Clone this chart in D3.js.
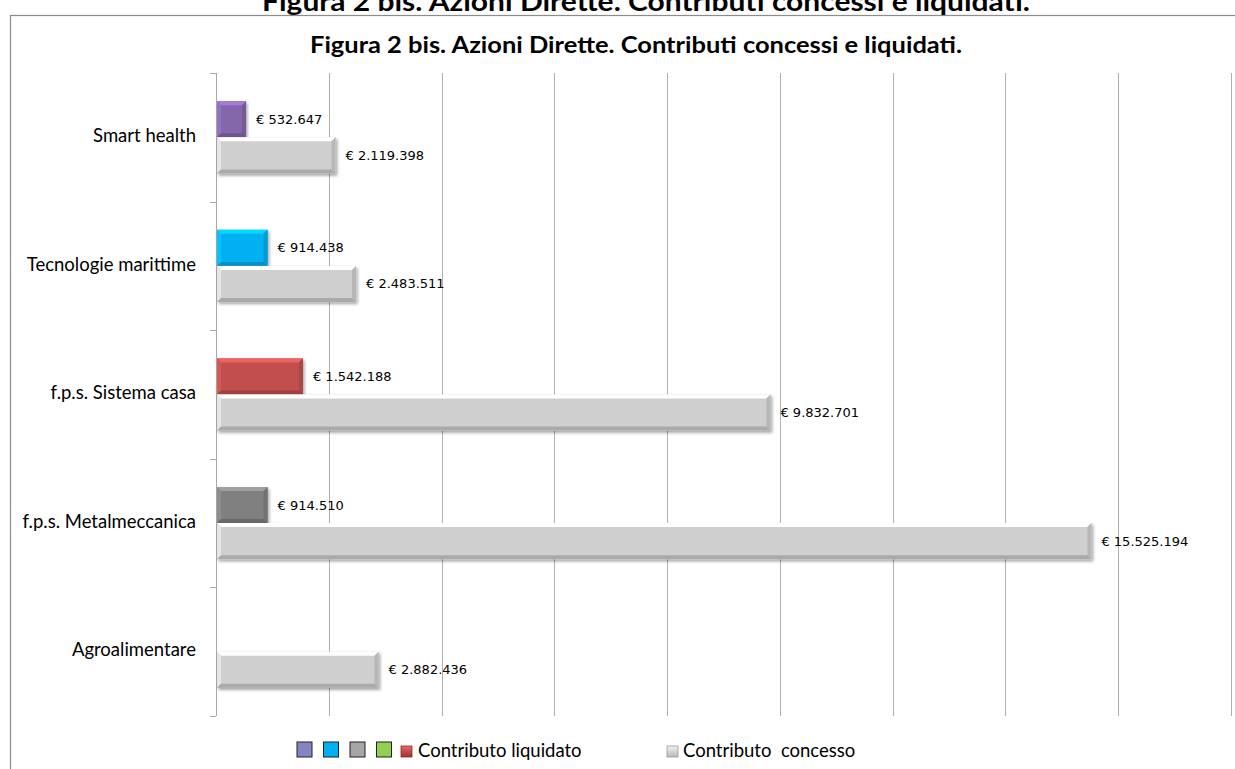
<!DOCTYPE html>
<html>
<head>
<meta charset="utf-8">
<script src="https://cdn.jsdelivr.net/npm/d3@7"></script>
<style>
  html, body { margin: 0; padding: 0; background: #fff; overflow: hidden; }
  svg { display: block; }
  text { fill: #000; }
</style>
</head>
<body>
<div id="chart"></div>
<script>
// Figura 2 bis — contributi concessi e liquidati per area
const categories = ['Smart health', 'Tecnologie marittime', 'f.p.s. Sistema casa', 'f.p.s. Metalmeccanica', 'Agroalimentare'];
const liquidato = [532647, 914438, 1542188, 914510, 0];
const concesso = [2119398, 2483511, 9832701, 15525194, 2882436];
const liquidatoColors = ['#8466ab', '#00b0f0', '#c0504d', '#808080', '#92d050'];
const concessoColor = '#cfcfcf';
const xTicks = [0, 2e6, 4e6, 6e6, 8e6, 10e6, 12e6, 14e6, 16e6, 18e6];
const legendSwatches = ['#8585c6', '#00b0f0', '#a6a6a6', '#92d050'];
const titleText = 'Figura 2 bis. Azioni Dirette. Contributi concessi e liquidati.';

const W = 1235, H = 769;
const plot = { left: 216, right: 1231, top: 73, bottom: 716 };

const svg = d3.select('#chart').append('svg')
  .attr('width', W).attr('height', H);

const defs = svg.append('defs');
const shadow = defs.append('filter').attr('id', 'shadow')
  .attr('x', '-5%').attr('y', '-20%').attr('width', '115%').attr('height', '160%');
shadow.append('feDropShadow')
  .attr('dx', 1.5).attr('dy', 2).attr('stdDeviation', 1.5)
  .attr('flood-color', '#000').attr('flood-opacity', 0.35);

// outer title, clipped at the top of the page as in the source
svg.append('text')
  .attr('x', 646).attr('y', 11)
  .attr('text-anchor', 'middle')
  .attr('font-family', 'Lato, sans-serif')
  .attr('font-weight', 'bold')
  .attr('font-size', 26)
  .attr('textLength', 768).attr('lengthAdjust', 'spacingAndGlyphs')
  .text(titleText);

// chart frame
svg.append('rect')
  .attr('x', 10.5).attr('y', 15.5)
  .attr('width', W).attr('height', H)
  .attr('fill', '#fff')
  .attr('stroke', '#8c8c8c').attr('stroke-width', 1.2);

svg.append('text')
  .attr('x', 636).attr('y', 53)
  .attr('text-anchor', 'middle')
  .attr('font-family', 'Lato, sans-serif')
  .attr('font-weight', 'bold')
  .attr('font-size', 22)
  .attr('textLength', 652).attr('lengthAdjust', 'spacingAndGlyphs')
  .text(titleText);

const x = d3.scaleLinear().domain([0, 18e6]).range([plot.left, plot.right]);
const y0 = d3.scaleBand().domain(categories).range([plot.top, plot.bottom]);
const y1 = d3.scaleBand().domain(['liquidato', 'concesso'])
  .range([0, y0.bandwidth()]).paddingInner(0).paddingOuter(0.78);

// vertical gridlines
svg.append('g').selectAll('line')
  .data(xTicks.slice(1))
  .join('line')
  .attr('x1', d => Math.round(x(d)) + 0.5).attr('x2', d => Math.round(x(d)) + 0.5)
  .attr('y1', plot.top).attr('y2', plot.bottom)
  .attr('stroke', '#b0b0b0').attr('stroke-width', 1);

// category axis with ticks on band edges
const edges = categories.map(c => y0(c)).concat([plot.bottom]);
const yAxis = svg.append('g');
yAxis.append('line')
  .attr('x1', plot.left + 0.5).attr('x2', plot.left + 0.5)
  .attr('y1', plot.top).attr('y2', plot.bottom)
  .attr('stroke', '#a8a8a8');
yAxis.selectAll('line.tick')
  .data(edges)
  .join('line').attr('class', 'tick')
  .attr('x1', plot.left - 6).attr('x2', plot.left)
  .attr('y1', d => Math.round(d) + 0.5).attr('y2', d => Math.round(d) + 0.5)
  .attr('stroke', '#a8a8a8');
yAxis.selectAll('text')
  .data(categories)
  .join('text')
  .attr('x', 196)
  .attr('y', d => y0(d) + y0.bandwidth() / 2)
  .attr('text-anchor', 'end')
  .attr('dominant-baseline', 'middle')
  .attr('font-family', 'Lato, sans-serif')
  .attr('font-size', 18.5)
  .text(d => d);

// beveled bar, Excel style
function bevelBar(g, x0, yTop, w, h, color) {
  if (w <= 0) return;
  const b = Math.min(4, w / 2);
  const c = d3.color(color);
  const bar = g.append('g').attr('filter', 'url(#shadow)');
  bar.append('rect')
    .attr('x', x0).attr('y', yTop).attr('width', w).attr('height', h)
    .attr('fill', color);
  const x1 = x0 + w, y1b = yTop + h;
  const faces = [
    { pts: [[x0, yTop], [x1, yTop], [x1 - b, yTop + b], [x0 + b, yTop + b]], fill: c.brighter(0.6) },
    { pts: [[x0, yTop], [x0 + b, yTop + b], [x0 + b, y1b - b], [x0, y1b]], fill: c.brighter(0.3) },
    { pts: [[x1, yTop], [x1, y1b], [x1 - b, y1b - b], [x1 - b, yTop + b]], fill: c.darker(0.35) },
    { pts: [[x0, y1b], [x0 + b, y1b - b], [x1 - b, y1b - b], [x1, y1b]], fill: c.darker(0.55) }
  ];
  bar.selectAll('polygon')
    .data(faces)
    .join('polygon')
    .attr('points', d => d.pts.map(p => p.join(',')).join(' '))
    .attr('fill', d => d.fill);
}

const fmt = d3.formatLocale({ decimal: ',', thousands: '.', grouping: [3], currency: ['€ ', ''] }).format('$,');

const bars = svg.append('g');
const labels = svg.append('g')
  .attr('font-family', 'DejaVu Sans, sans-serif')
  .attr('font-size', 13)
  .attr('fill', '#1a1a1a');

categories.forEach((cat, i) => {
  const series = [
    { key: 'liquidato', value: liquidato[i], color: liquidatoColors[i] },
    { key: 'concesso', value: concesso[i], color: concessoColor }
  ];
  series.forEach(s => {
    if (!s.value) return;
    const yy = y0(cat) + y1(s.key);
    bevelBar(bars, x(0) + 1, yy, x(s.value) - x(0) - 1, y1.bandwidth(), s.color);
    labels.append('text')
      .attr('x', x(s.value) + 10)
      .attr('y', yy + y1.bandwidth() / 2 + 1)
      .attr('dominant-baseline', 'middle')
      .text(fmt(s.value));
  });
});

// legend
const legend = svg.append('g');
const sw = 15, ly = 742;
legend.selectAll('rect.sw')
  .data(legendSwatches)
  .join('rect').attr('class', 'sw')
  .attr('x', (d, i) => 297 + i * 26.5).attr('y', ly)
  .attr('width', sw).attr('height', sw)
  .attr('fill', d => d)
  .attr('stroke', '#222').attr('stroke-width', 1);

const legGrad = (id, c1, c2) => {
  const lg = defs.append('linearGradient').attr('id', id)
    .attr('x1', 0).attr('y1', 0).attr('x2', 0).attr('y2', 1);
  lg.append('stop').attr('offset', '0%').attr('stop-color', c1);
  lg.append('stop').attr('offset', '100%').attr('stop-color', c2);
};
legGrad('gRed', '#e36b66', '#a3302c');
legGrad('gGray', '#f2f2f2', '#b8b8b8');

legend.append('rect')
  .attr('x', 401).attr('y', ly + 4).attr('width', 11).attr('height', 11)
  .attr('fill', 'url(#gRed)').attr('stroke', '#8a2a27').attr('stroke-width', 0.8);
legend.append('text')
  .attr('x', 418).attr('y', ly + 15)
  .attr('font-family', 'Lato, sans-serif').attr('font-size', 18.5)
  .text('Contributo liquidato');

legend.append('rect')
  .attr('x', 667).attr('y', ly + 4).attr('width', 11).attr('height', 11)
  .attr('fill', 'url(#gGray)').attr('stroke', '#9a9a9a').attr('stroke-width', 0.8);
legend.append('text')
  .attr('x', 683).attr('y', ly + 15)
  .attr('font-family', 'Lato, sans-serif').attr('font-size', 18.5)
  .style('white-space', 'pre')
  .text('Contributo  concesso');
</script>
</body>
</html>
